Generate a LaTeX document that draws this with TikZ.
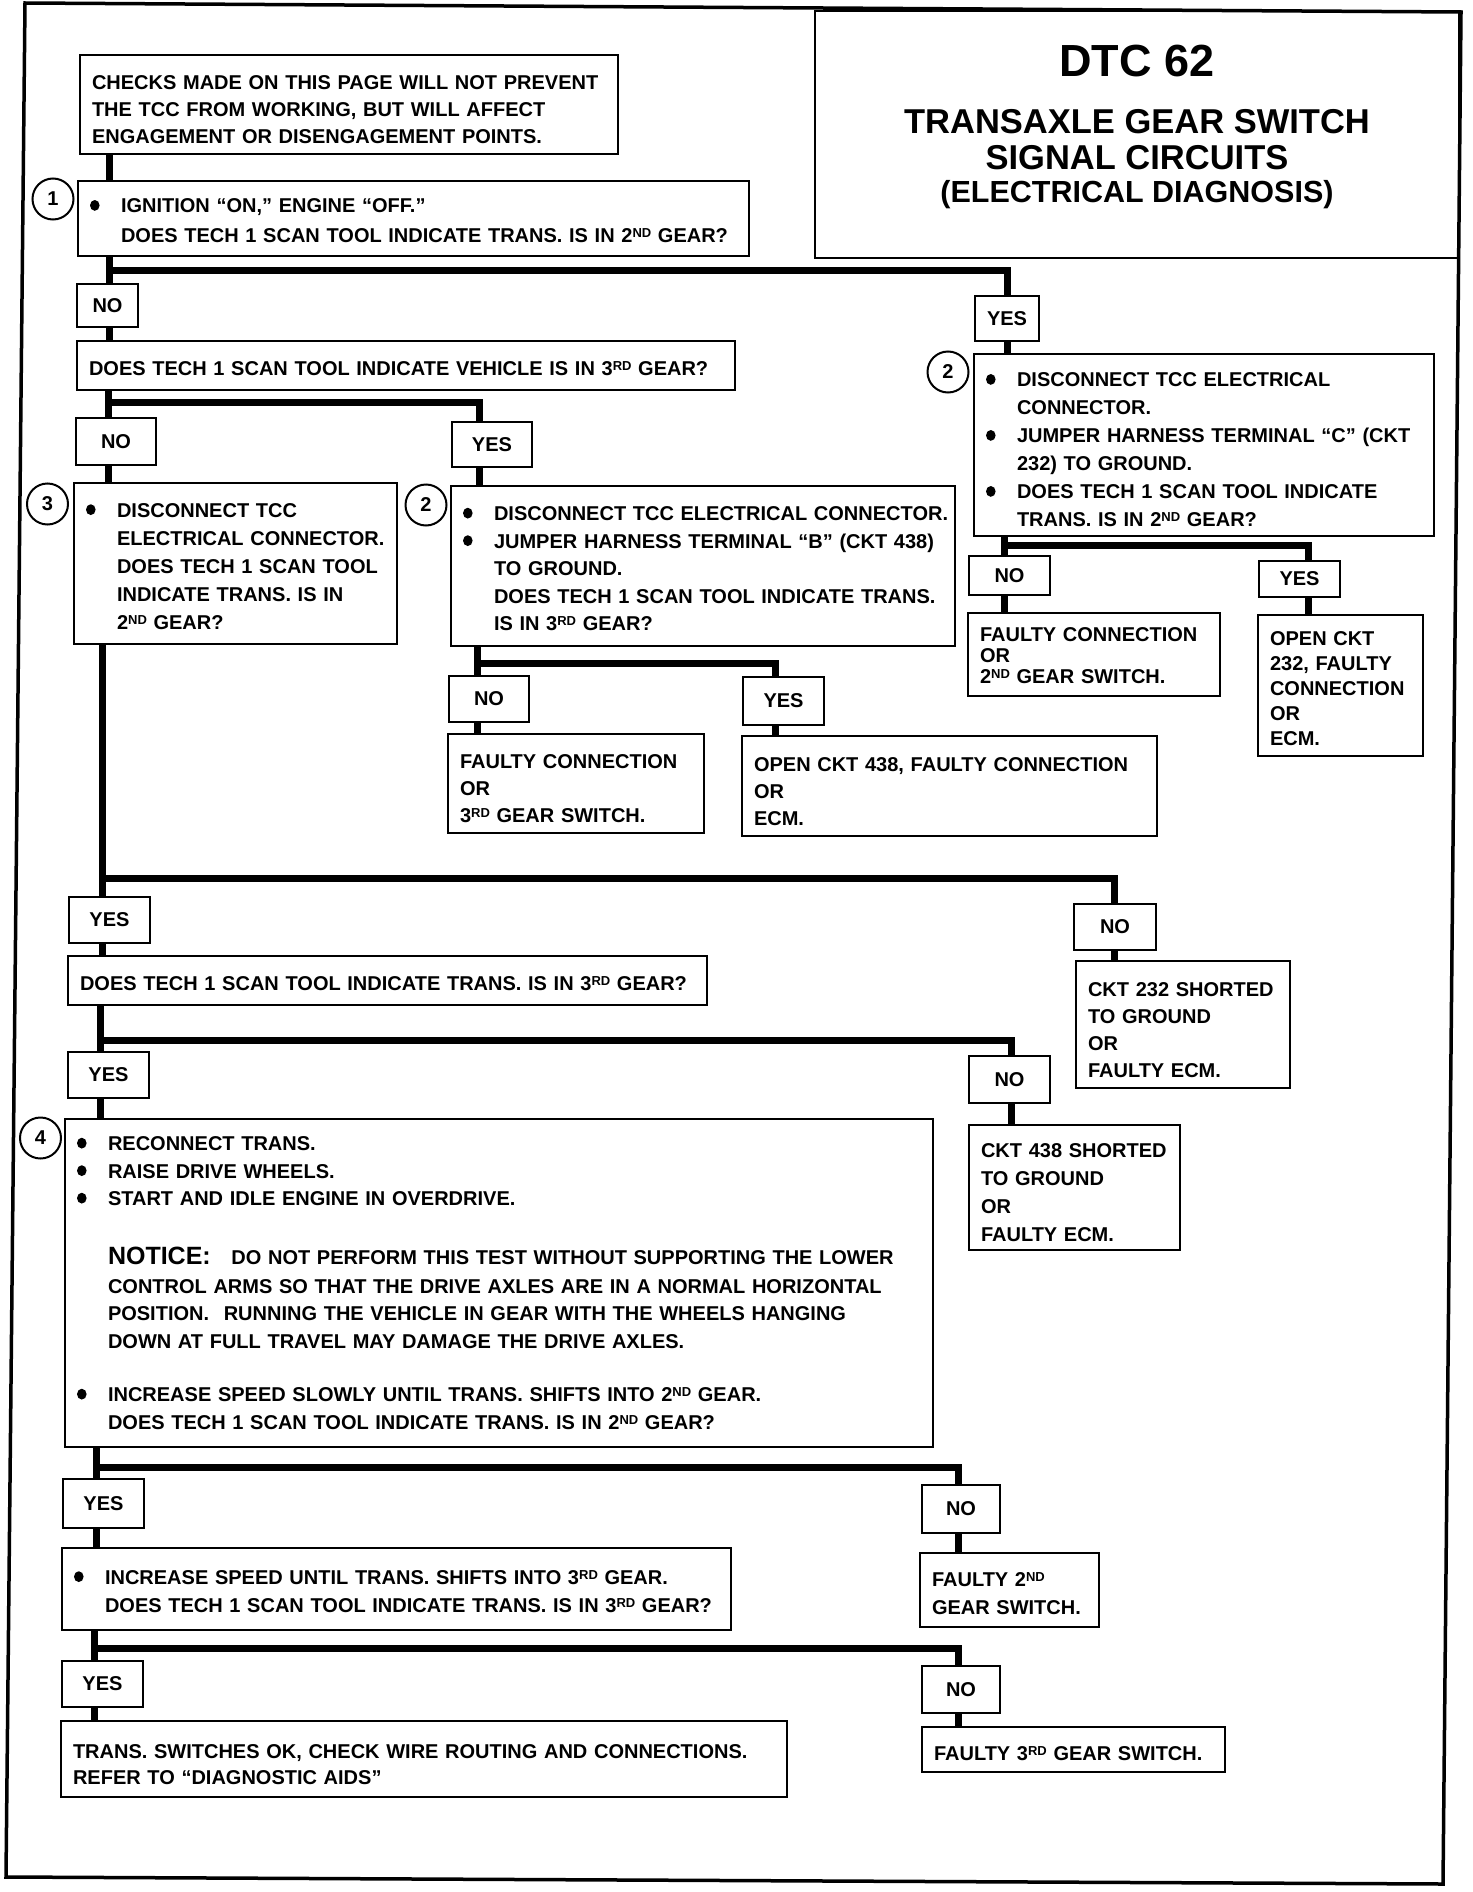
\documentclass[tikz,border=0pt]{standalone}
\usepackage{fontspec}
\setmainfont{Liberation Sans}
\newcommand{\bodyf}{\fontsize{20}{27}\selectfont\bfseries}
\newcommand{\Bul}{\makebox[31pt][l]{\hspace{0pt}\tikz[baseline={(0pt,-7.5pt)}]\fill (5pt,0pt) ellipse [x radius=4.8pt, y radius=5.4pt];}}
\newcommand{\Pline}[1]{\mbox{#1}}
\newcommand{\Bline}[1]{\mbox{\Bul #1}}
\newcommand{\Iline}[1]{\mbox{\hspace{31pt}#1}}
\newcommand{\Tp}[1]{\rule{0pt}{#1pt}}
\newcommand{\Sup}[1]{\raisebox{5pt}{\fontsize{13}{13}\selectfont #1}}
\newcommand{\Bx}[7][]{%
  \pgfmathsetmacro\BxW{#5-#3}%
  \pgfmathsetmacro\BxH{#6-#4}%
  \pgfmathsetmacro\BxT{#5-#3-24}%
  \pgfmathsetmacro\BxX{(#3+#5)/2}%
  \pgfmathsetmacro\BxY{(#4+#6)/2}%
  \node[bx, minimum width=\BxW pt, minimum height=\BxH pt, text width=\BxT pt, #1] (#2) at (\BxX,\BxY) {#7};}
\newcommand{\Lb}[6]{%
  \pgfmathsetmacro\BxW{#4-#2}%
  \pgfmathsetmacro\BxH{#5-#3}%
  \pgfmathsetmacro\BxX{(#2+#4)/2}%
  \pgfmathsetmacro\BxY{(#3+#5)/2}%
  \node[lb, minimum width=\BxW pt, minimum height=\BxH pt] (#1) at (\BxX,\BxY) {#6};}
\tikzset{
  bx/.style={draw, line width=2.4pt, inner xsep=12pt, inner ysep=0pt, align=left, font=\bodyf},
  lb/.style={draw, line width=2.4pt, inner sep=0pt, font=\bodyf},
  num/.style={circle, draw, line width=2pt, minimum size=41pt, inner sep=0pt, font=\bodyf},
  conn/.style={line width=7pt},
  bls/.style={font={\fontsize{20}{#1}\selectfont\bfseries}},
  ttl/.style={anchor=base, inner sep=0pt},
}
\begin{document}
\begin{tikzpicture}[x=1pt,y=-1pt]
\useasboundingbox (0,0) rectangle (1472,1892);
% outer frame
\draw[line width=3.5pt] (25,3) -- (1461,12) -- (1443,1884) -- (6,1877) -- cycle;
% title
\node[draw, line width=2.5pt, minimum width=644pt, minimum height=247pt, inner sep=0pt] (title) at (1137,134.5) {};
\node[ttl, font=\fontsize{45}{45}\selectfont\bfseries] (t1) at (1137,77) {DTC 62};
\node[ttl, font=\fontsize{34.5}{34.5}\selectfont\bfseries] (t2) at (1137,134) {TRANSAXLE GEAR SWITCH};
\node[ttl, font=\fontsize{34.5}{34.5}\selectfont\bfseries] (t3) at (1137,169) {SIGNAL CIRCUITS};
\node[ttl, font=\fontsize{30.5}{30.5}\selectfont\bfseries] (t4) at (1137,202) {(ELECTRICAL DIAGNOSIS)};

% boxes
\Bx{checks}{80}{55}{618}{154}{\Tp{25}\Pline{CHECKS MADE ON THIS PAGE WILL NOT PREVENT}\\
\Pline{THE TCC FROM WORKING, BUT WILL AFFECT}\\
\Pline{ENGAGEMENT OR DISENGAGEMENT POINTS.}}
\Bx[bls=30]{q1}{78}{181}{749}{256}{\Tp{19}\Bline{IGNITION “ON,” ENGINE “OFF.”}\\
\Iline{DOES TECH 1 SCAN TOOL INDICATE TRANS. IS IN 2\Sup{ND} GEAR?}}
\node[num] (c1) at (53,199) {1};
\Lb{no1}{77}{284}{138}{327}{NO}
\Lb{yes1}{975}{296}{1039}{341}{YES}
\Bx{q2}{77}{341}{735}{390}{\Tp{19.5}\Pline{DOES TECH 1 SCAN TOOL INDICATE VEHICLE IS IN 3\Sup{RD} GEAR?}}
\Lb{no2}{76}{418}{156}{465}{NO}
\Lb{yes2}{452}{422}{532}{467}{YES}
\Bx[bls=28]{q3}{74}{483}{397}{644}{\Tp{19.5}\Bline{DISCONNECT TCC}\\
\Iline{ELECTRICAL CONNECTOR.}\\
\Iline{DOES TECH 1 SCAN TOOL}\\
\Iline{INDICATE TRANS. IS IN}\\
\Iline{2\Sup{ND} GEAR?}}
\node[num] (c3) at (47.5,504) {3};
\Bx[bls=27.5]{q2m}{451}{486}{955}{646}{\Tp{19.5}\Bline{DISCONNECT TCC ELECTRICAL CONNECTOR.}\\
\Bline{JUMPER HARNESS TERMINAL “B” (CKT 438)}\\
\Iline{TO GROUND.}\\
\Iline{DOES TECH 1 SCAN TOOL INDICATE TRANS.}\\
\Iline{IS IN 3\Sup{RD} GEAR?}}
\node[num] (c2m) at (426,505) {2};
\Lb{no3}{449}{676}{529}{722}{NO}
\Lb{yes3}{743}{677}{824}{725}{YES}
\Bx{f3}{448}{734}{704}{833}{\Tp{24.6}\Pline{FAULTY CONNECTION}\\
\Pline{OR}\\
\Pline{3\Sup{RD} GEAR SWITCH.}}
\Bx{o438}{742}{736}{1157}{836}{\Tp{24.6}\Pline{OPEN CKT 438, FAULTY CONNECTION}\\
\Pline{OR}\\
\Pline{ECM.}}
\Bx[bls=28]{q2r}{974}{354}{1434}{536}{\Tp{24}\Bline{DISCONNECT TCC ELECTRICAL}\\
\Iline{CONNECTOR.}\\
\Bline{JUMPER HARNESS TERMINAL “C” (CKT}\\
\Iline{232) TO GROUND.}\\
\Bline{DOES TECH 1 SCAN TOOL INDICATE}\\
\Iline{TRANS. IS IN 2\Sup{ND} GEAR?}}
\node[num] (c2r) at (948,372) {2};
\Lb{no4}{969}{556}{1050}{595}{NO}
\Lb{yes4}{1259}{561}{1340}{597}{YES}
\Bx[bls=21]{f2}{968}{613}{1220}{696}{\Tp{16.5}\Pline{FAULTY CONNECTION}\\
\Pline{OR}\\
\Pline{2\Sup{ND} GEAR SWITCH.}}
\Bx[bls=25]{o232}{1258}{615}{1423}{756}{\Tp{19.5}\Pline{OPEN CKT}\\
\Pline{232, FAULTY}\\
\Pline{CONNECTION}\\
\Pline{OR}\\
\Pline{ECM.}}
\Lb{yes5}{69}{897}{150}{943}{YES}
\Lb{no5}{1074}{904}{1156}{950}{NO}
\Bx{s232}{1076}{961}{1290}{1088}{\Tp{25.4}\Pline{CKT 232 SHORTED}\\
\Pline{TO GROUND}\\
\Pline{OR}\\
\Pline{FAULTY ECM.}}
\Bx{q5}{68}{956}{707}{1005}{\Tp{19.5}\Pline{DOES TECH 1 SCAN TOOL INDICATE TRANS. IS IN 3\Sup{RD} GEAR?}}
\Lb{yes6}{68}{1052}{149}{1098}{YES}
\Lb{no6}{969}{1056}{1050}{1103}{NO}
\Bx[bls=28]{s438}{969}{1125}{1180}{1250}{\Tp{24.6}\Pline{CKT 438 SHORTED}\\
\Pline{TO GROUND}\\
\Pline{OR}\\
\Pline{FAULTY ECM.}}
\Bx[bls=27.5]{q4}{65}{1119}{933}{1447}{\Bline{RECONNECT TRANS.}\\
\Bline{RAISE DRIVE WHEELS.}\\
\Bline{START AND IDLE ENGINE IN OVERDRIVE.}\\[31pt]
\Iline{\makebox[807pt][s]{{\fontsize{25}{25}\selectfont NOTICE:}\hspace{14pt} DO NOT PERFORM THIS TEST WITHOUT SUPPORTING THE LOWER}}\\[1.5pt]
\Iline{\makebox[807pt][s]{CONTROL ARMS SO THAT THE DRIVE AXLES ARE IN A NORMAL HORIZONTAL}}\\
\Iline{\makebox[807pt][s]{POSITION.\hspace{8pt} RUNNING THE VEHICLE IN GEAR WITH THE WHEELS HANGING}}\\
\Iline{DOWN AT FULL TRAVEL MAY DAMAGE THE DRIVE AXLES.}\\[26pt]
\Bline{INCREASE SPEED SLOWLY UNTIL TRANS. SHIFTS INTO 2\Sup{ND} GEAR.}\\
\Iline{DOES TECH 1 SCAN TOOL INDICATE TRANS. IS IN 2\Sup{ND} GEAR?}}
\node[num] (c4) at (40.5,1138) {4};
\Lb{yes7}{63}{1479}{144}{1528}{YES}
\Lb{no7}{922}{1485}{1000}{1533}{NO}
\Bx[bls=28]{q7}{62}{1548}{731}{1630}{\Tp{18.5}\Bline{INCREASE SPEED UNTIL TRANS. SHIFTS INTO 3\Sup{RD} GEAR.}\\
\Iline{DOES TECH 1 SCAN TOOL INDICATE TRANS. IS IN 3\Sup{RD} GEAR?}}
\Bx[bls=28]{f2nd}{920}{1553}{1099}{1627}{\Tp{20.6}\Pline{FAULTY 2\Sup{ND}}\\
\Pline{GEAR SWITCH.}}
\Lb{yes8}{62}{1661}{143}{1707}{YES}
\Lb{no8}{922}{1666}{1000}{1713}{NO}
\Bx[bls=26]{fin}{61}{1721}{787}{1797}{\Tp{24.6}\Pline{TRANS. SWITCHES OK, CHECK WIRE ROUTING AND CONNECTIONS.}\\
\Pline{REFER TO “DIAGNOSTIC AIDS”}}
\Bx{f3rd}{922}{1727}{1225}{1772}{\Tp{21.8}\Pline{FAULTY 3\Sup{RD} GEAR SWITCH.}}

% connectors
\coordinate (j1) at (109,270); \coordinate (k1) at (1007,270);
\draw[conn] (checks.south -| j1) -- (q1.north -| j1);
\draw[conn] (q1.south -| j1) -- (no1.north -| j1);
\draw[conn] (j1) -- (k1) -- (k1 |- yes1.north);
\draw[conn] (no1.south -| j1) -- (q2.north -| j1);
\draw[conn] (yes1.south -| k1) -- (q2r.north -| k1);

\coordinate (j2) at (108,402); \coordinate (k2) at (479,402);
\draw[conn] (q2.south -| j2) -- (no2.north -| j2);
\draw[conn] (j2) -- (k2) -- (k2 |- yes2.north);
\draw[conn] (no2.south -| j2) -- (q3.north -| j2);
\draw[conn] (yes2.south -| k2) -- (q2m.north -| k2);

\coordinate (j3) at (477,663); \coordinate (k3) at (775,663);
\draw[conn] (q2m.south -| j3) -- (no3.north -| j3);
\draw[conn] (j3) -- (k3) -- (k3 |- yes3.north);
\draw[conn] (no3.south -| j3) -- (f3.north -| j3);
\draw[conn] (yes3.south -| k3) -- (o438.north -| k3);

\coordinate (j4) at (1004,545); \coordinate (k4) at (1308,545);
\draw[conn] (q2r.south -| j4) -- (no4.north -| j4);
\draw[conn] (j4) -- (k4) -- (k4 |- yes4.north);
\draw[conn] (no4.south -| j4) -- (f2.north -| j4);
\draw[conn] (yes4.south -| k4) -- (o232.north -| k4);

\coordinate (j5) at (102,878); \coordinate (k5) at (1114,878);
\draw[conn] (q3.south -| j5) -- (yes5.north -| j5);
\draw[conn] (j5) -- (k5) -- (k5 |- no5.north);
\draw[conn] (yes5.south -| j5) -- (q5.north -| j5);
\draw[conn] (no5.south -| k5) -- (s232.north -| k5);

\coordinate (j6) at (100,1040); \coordinate (k6) at (1011,1040);
\draw[conn] (q5.south -| j6) -- (yes6.north -| j6);
\draw[conn] (j6) -- (k6) -- (k6 |- no6.north);
\draw[conn] (yes6.south -| j6) -- (q4.north -| j6);
\draw[conn] (no6.south -| k6) -- (s438.north -| k6);

\coordinate (j7) at (96,1467); \coordinate (k7) at (958,1467);
\draw[conn] (q4.south -| j7) -- (yes7.north -| j7);
\draw[conn] (j7) -- (k7) -- (k7 |- no7.north);
\draw[conn] (yes7.south -| j7) -- (q7.north -| j7);
\draw[conn] (no7.south -| k7) -- (f2nd.north -| k7);

\coordinate (j8) at (94,1648); \coordinate (k8) at (958,1648);
\draw[conn] (q7.south -| j8) -- (yes8.north -| j8);
\draw[conn] (j8) -- (k8) -- (k8 |- no8.north);
\draw[conn] (yes8.south -| j8) -- (fin.north -| j8);
\draw[conn] (no8.south -| k8) -- (f3rd.north -| k8);
\end{tikzpicture}
\end{document}
